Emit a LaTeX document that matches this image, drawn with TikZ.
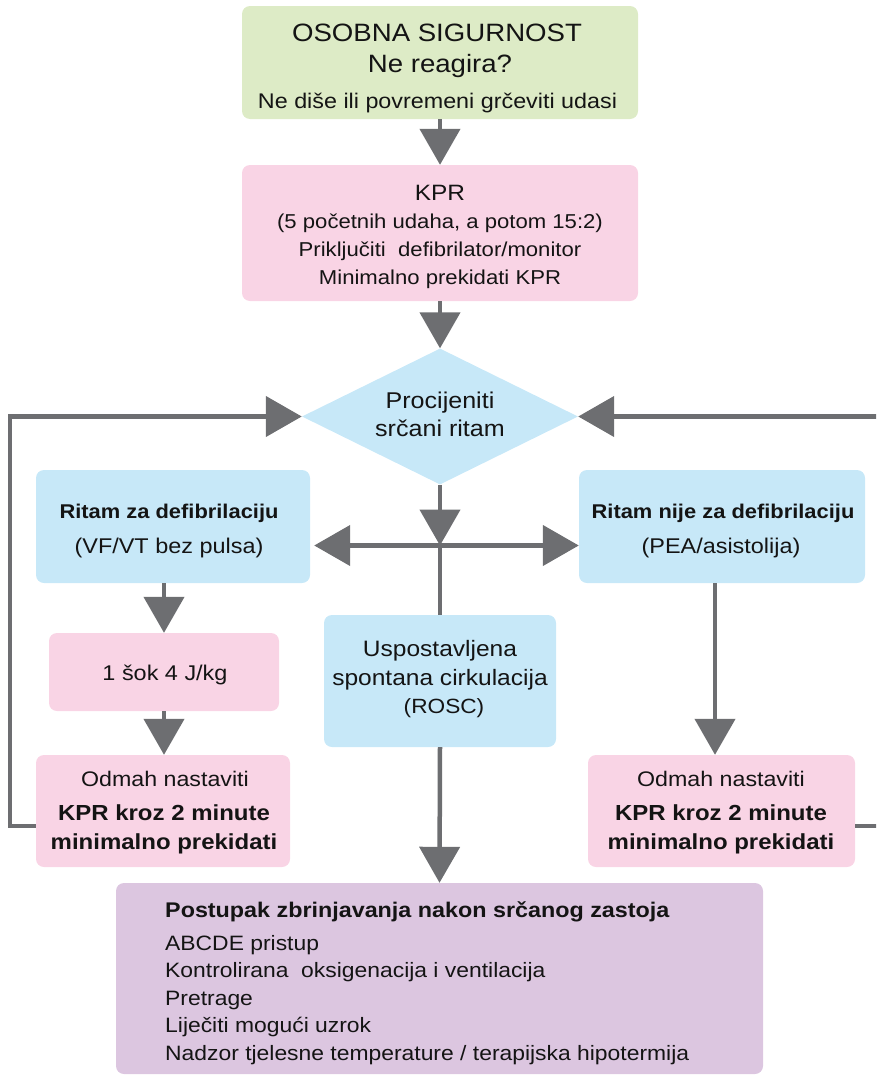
\documentclass[tikz,border=0pt]{standalone}
\usepackage{fontspec}
\setmainfont{Liberation Sans}[FakeStretch=1.1]
\usetikzlibrary{arrows.meta,shapes.geometric}

\definecolor{boxgreen}{HTML}{DDEBC6}
\definecolor{boxpink}{HTML}{F9D4E5}
\definecolor{boxblue}{HTML}{C7E8F8}
\definecolor{boxpurple}{HTML}{DCC6E0}
\definecolor{arrowgray}{HTML}{6D6E71}
\definecolor{textcol}{HTML}{141414}

\tikzset{
  box/.style={rectangle, rounded corners=8pt, draw=none, inner sep=0pt},
  flow/.style={draw=arrowgray, line width=4.5pt, -{Triangle[length=36pt,width=40pt]}},
  plain/.style={draw=arrowgray, line width=4.5pt},
  txt/.style={anchor=base, inner sep=0pt, text=textcol},
  ltxt/.style={anchor=base west, inner sep=0pt, text=textcol},
  fs/.style={font=\fontsize{#1}{#1}\selectfont},
  fsb/.style={font=\fontsize{#1}{#1}\selectfont\bfseries},
}

\begin{document}
\begin{tikzpicture}[x=1pt,y=-1pt]
\useasboundingbox (0,0) rectangle (876,1076);
\clip (0,0) rectangle (876,1076);

% boxes
\node[box, fill=boxgreen, minimum width=396pt, minimum height=113pt] (start) at (440,62.5) {};
\node[box, fill=boxpink, minimum width=396pt, minimum height=136pt] (kpr) at (440,233) {};
\node[diamond, fill=boxblue, draw=none, inner sep=0pt, minimum width=276pt, minimum height=136pt] (rhythm) at (440,416.5) {};
\node[box, fill=boxblue, minimum width=274pt, minimum height=113pt] (shockable) at (173,526.5) {};
\node[box, fill=boxblue, minimum width=286pt, minimum height=113pt] (nonshock) at (722,526.5) {};
\node[box, fill=boxpink, minimum width=230pt, minimum height=78pt] (shock) at (164,672) {};
\node[box, fill=boxblue, minimum width=232pt, minimum height=132pt] (rosc) at (440,681) {};
\node[box, fill=boxpink, minimum width=254pt, minimum height=112pt] (cprL) at (163,811) {};
\node[box, fill=boxpink, minimum width=267pt, minimum height=112pt] (cprR) at (721.5,811) {};
\node[box, fill=boxpurple, minimum width=647pt, minimum height=191pt] (post) at (439.5,978.5) {};

% helper points
\coordinate (junction) at (440,545.5);
\coordinate (rcol) at (715,0);
\coordinate (lfar) at (10,826);
\coordinate (rfar) at (882,826);

% connectors
\draw[flow] (start.south) -- (kpr.north);
\draw[flow] (kpr.south) -- (rhythm.north);
\draw[flow] (rhythm.south) -- (junction);
\draw[plain] (junction) -- (rosc.north);
\draw[flow] (junction) -- ([xshift=4pt]shockable.east |- junction);
\draw[flow] (junction) -- (nonshock.west |- junction);
\draw[flow] (shockable.south -| shock.north) -- (shock.north);
\draw[flow] (shock.south) -- (shock.south |- cprL.north);
\draw[flow] (nonshock.south -| rcol) -- (cprR.north -| rcol);
\draw[flow] (rosc.south) -- (post.north);
\draw[flow] (cprL.west |- lfar) -- (lfar) |- (rhythm.west);
\draw[flow] (cprR.east |- rfar) -- (rfar) |- (rhythm.east);

% texts
\node[txt, fs=25.1] (t1) at (437,41.7) {OSOBNA SIGURNOST};
\node[txt, fs=25.1] (t2) at (440,72) {Ne reagira?};
\node[txt, fs=21.2] (t3) at (437.5,108) {Ne diše ili povremeni grčeviti udasi};

\node[txt, fs=22.2] (k1) at (440,200) {KPR};
\node[txt, fs=20.1] (k2) at (440,228) {(5 početnih udaha, a potom 15:2)};
\node[txt, fs=20.1] (k3) at (440,256.5) {Priključiti~ defibrilator/monitor};
\node[txt, fs=20.1] (k4) at (440,284) {Minimalno prekidati KPR};

\node[txt, fs=22.8] (d1) at (440,408) {Procijeniti};
\node[txt, fs=22.8] (d2) at (440,436.5) {srčani ritam};

\node[txt, fsb=19.9] (s1) at (169,518) {Ritam za defibrilaciju};
\node[txt, fs=21.3] (s2) at (169,553) {(VF/VT bez pulsa)};
\node[txt, fsb=19.9] (n1) at (723,518) {Ritam nije za defibrilaciju};
\node[txt, fs=21.3] (n2) at (721,553) {(PEA/asistolija)};

\node[txt, fs=21.3] (h1) at (165,680) {1 šok 4 J/kg};

\node[txt, fs=22.3] (r1) at (440,656.7) {Uspostavljena};
\node[txt, fs=22.3] (r2) at (440,685) {spontana cirkulacija};
\node[txt, fs=20.6] (r3) at (444,713) {(ROSC)};

\node[txt, fs=21.1] (cl1) at (165,786.7) {Odmah nastaviti};
\node[txt, fsb=21.8] (cl2) at (164,820) {KPR kroz 2 minute};
\node[txt, fsb=21.8] (cl3) at (164,849) {minimalno prekidati};
\node[txt, fs=21.1] (cr1) at (721,786.7) {Odmah nastaviti};
\node[txt, fsb=21.8] (cr2) at (721,820) {KPR kroz 2 minute};
\node[txt, fsb=21.8] (cr3) at (721,849) {minimalno prekidati};

\node[ltxt, fsb=21.2] (p0) at (165,917) {Postupak zbrinjavanja nakon srčanog zastoja};
\node[ltxt, fs=20.8] (p1) at (165,950) {ABCDE pristup};
\node[ltxt, fs=20.8] (p2) at (165,977.5) {Kontrolirana~ oksigenacija i ventilacija};
\node[ltxt, fs=20.8] (p3) at (165,1005) {Pretrage};
\node[ltxt, fs=20.8] (p4) at (165,1032.5) {Liječiti mogući uzrok};
\node[ltxt, fs=20.8] (p5) at (165,1060) {Nadzor tjelesne temperature / terapijska hipotermija};
\end{tikzpicture}
\end{document}
